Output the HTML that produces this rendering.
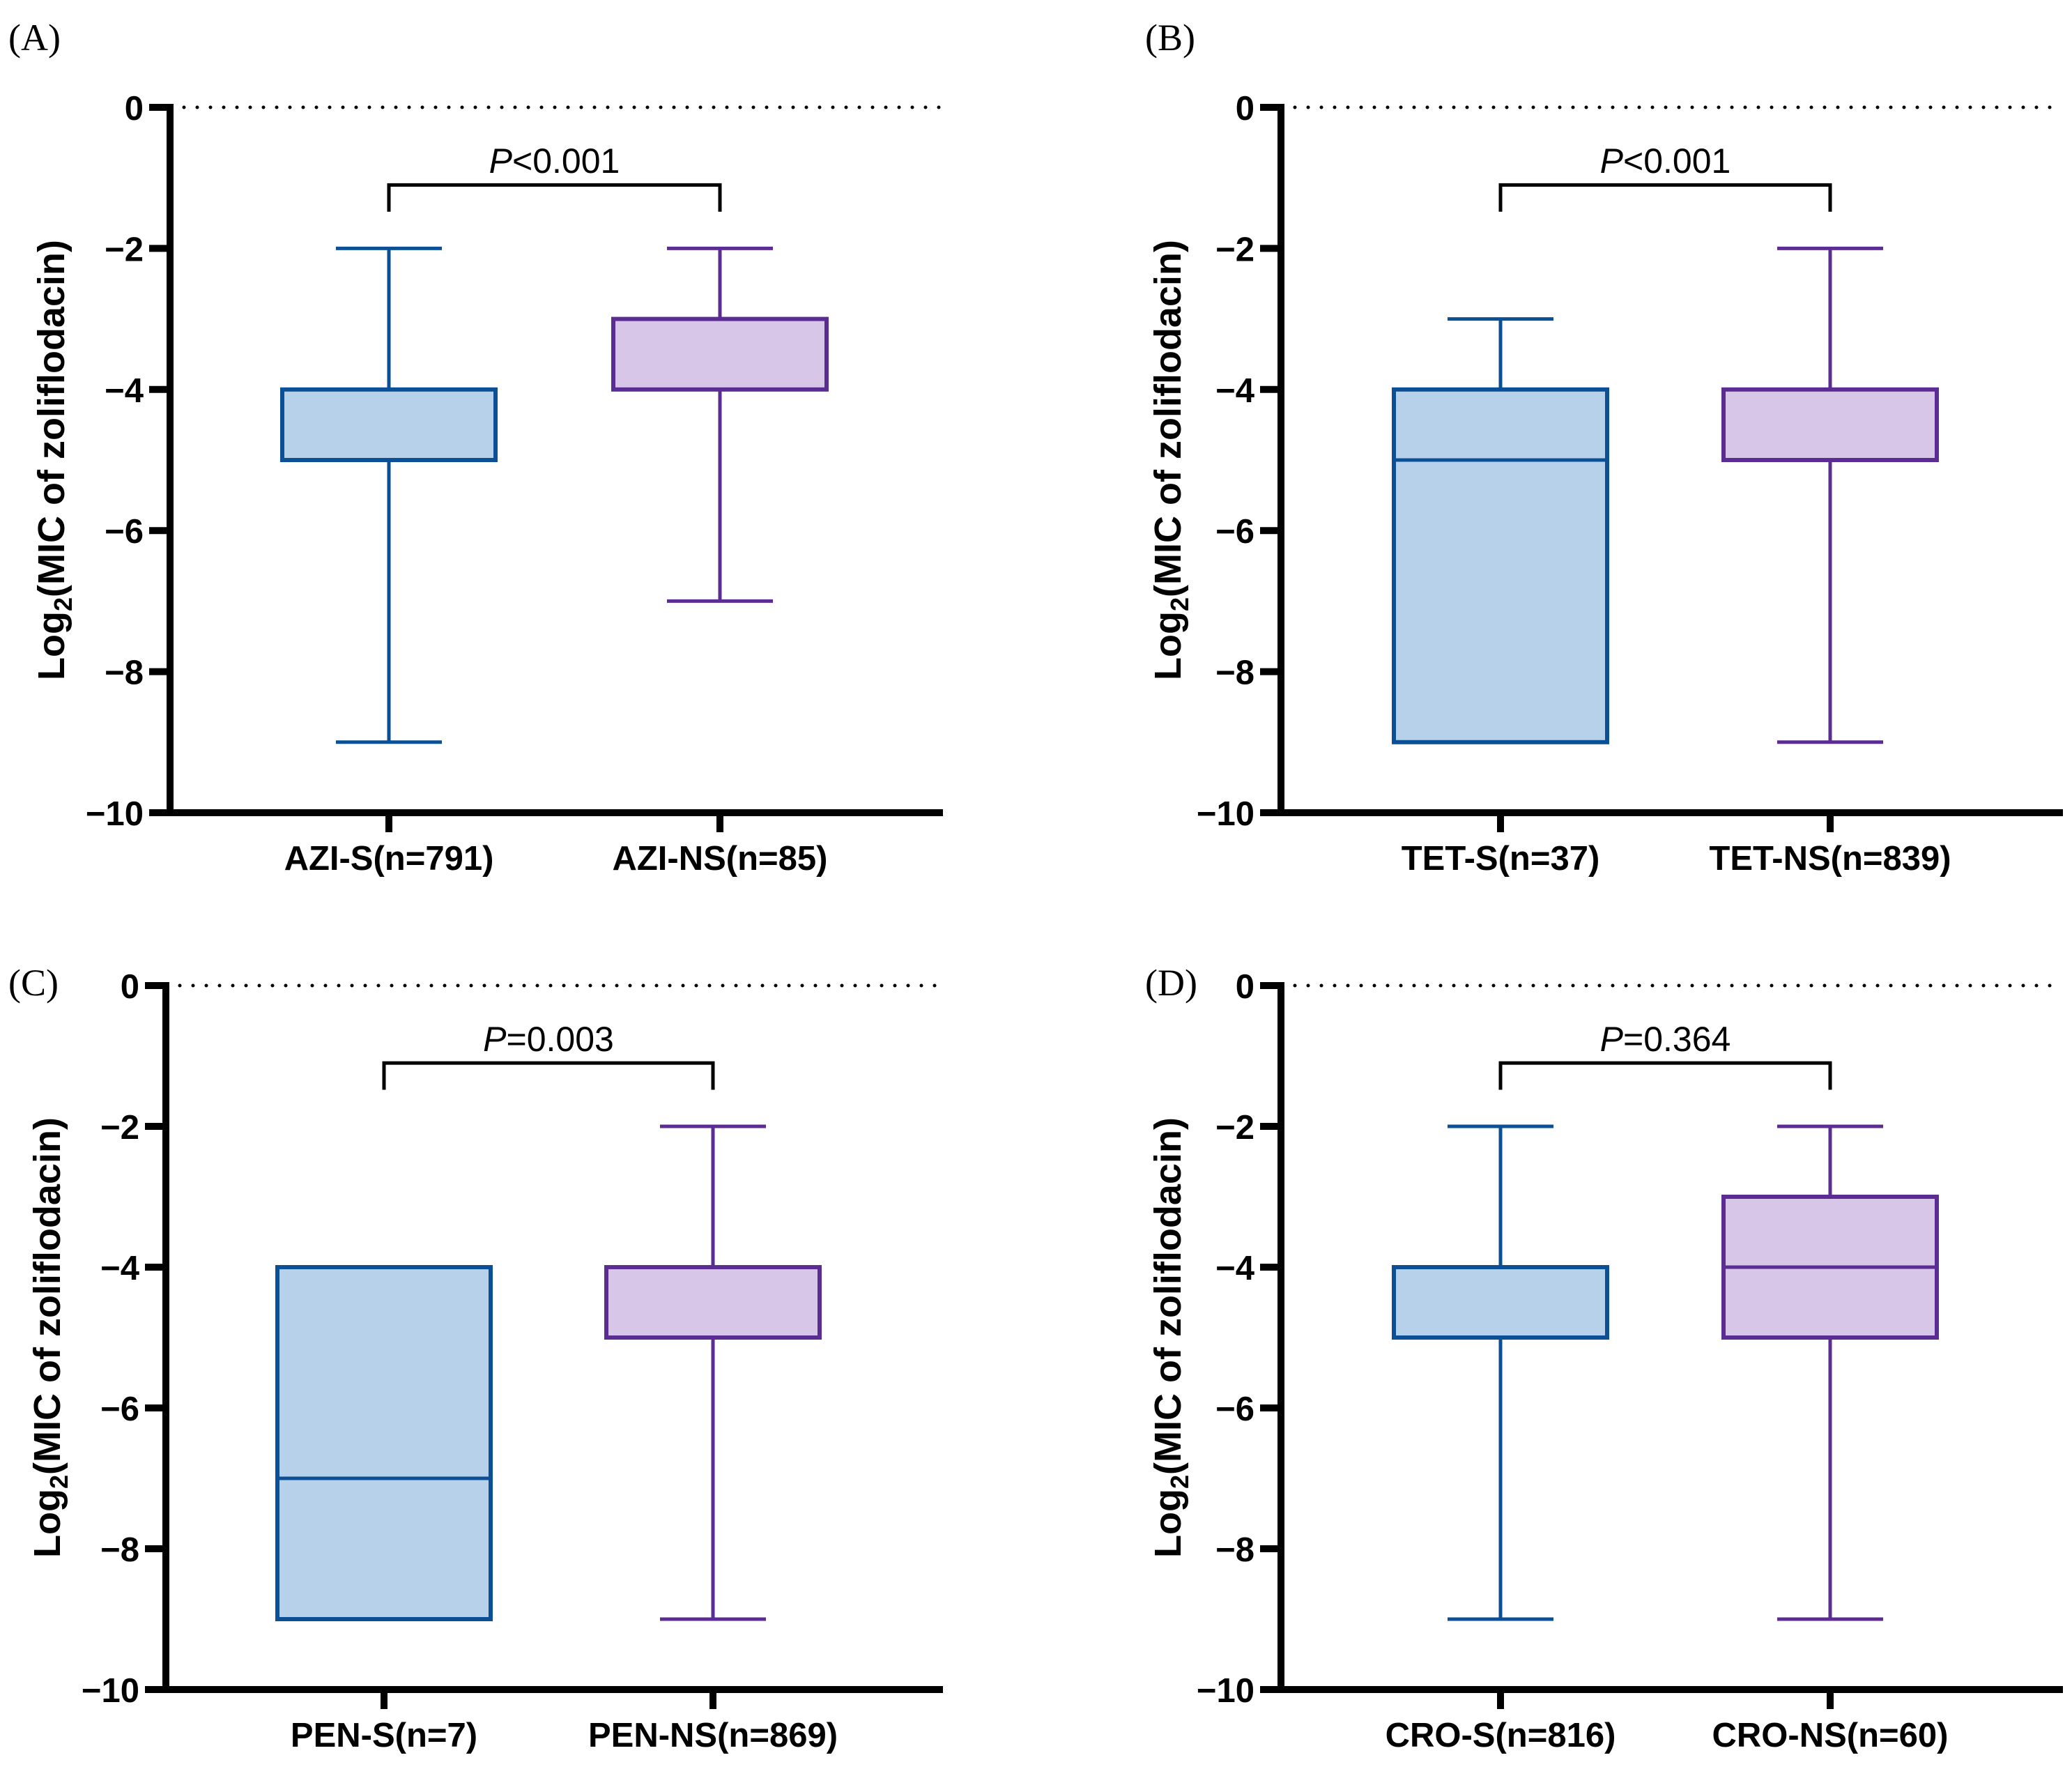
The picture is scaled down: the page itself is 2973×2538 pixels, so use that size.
<!DOCTYPE html>
<html><head><meta charset="utf-8"><style>
html,body{margin:0;padding:0;background:#fff}
svg{display:block}
</style></head><body>
<svg id="fig" width="2973" height="2538" viewBox="0 0 2973 2538" xmlns="http://www.w3.org/2000/svg" font-family="Liberation Sans, Arial, sans-serif"></svg>
<script>
const panelLabels = ["(A)","(B)","(C)","(D)"];
const catLabels = [["AZI-S(n=791)","AZI-NS(n=85)"],["TET-S(n=37)","TET-NS(n=839)"],["PEN-S(n=7)","PEN-NS(n=869)"],["CRO-S(n=816)","CRO-NS(n=60)"]];
const pTexts = [["<0.001"],["<0.001"],["=0.003"],["=0.364"]];
// [min, q1, median, q3, max]
const sValues = [[-9,-5,-4,-4,-2],[-9,-9,-5,-4,-3],[-9,-9,-7,-4,-4],[-9,-5,-4,-4,-2]];
const nsValues = [[-7,-4,-4,-3,-2],[-9,-5,-4,-4,-2],[-9,-5,-4,-4,-2],[-9,-5,-4,-3,-2]];
const yTicks = [0,-2,-4,-6,-8,-10];

const NS="http://www.w3.org/2000/svg";
const svg=document.getElementById('fig');
function el(tag,attrs,parent,txt){const e=document.createElementNS(NS,tag);for(const k in attrs)e.setAttribute(k,attrs[k]);if(txt!==undefined)e.textContent=txt;(parent||svg).appendChild(e);return e;}
const geo=[{ax:244,y0:154,y10:1166,xe:1353,cx:[558,1033],lx:12,ly:72,tx:74},
 {ax:1838,y0:154,y10:1166,xe:2960,cx:[2153,2626],lx:1643,ly:72,tx:1676},
 {ax:238,y0:1414,y10:2424,xe:1353,cx:[551,1023],lx:12,ly:1428,tx:68},
 {ax:1838,y0:1414,y10:2424,xe:2960,cx:[2153,2626],lx:1643,ly:1428,tx:1676}];
const colors=[{s:"#0b5095",f:"#b8d1eb"},{s:"#5b2d92",f:"#d8c6e9"}];
geo.forEach((g,pi)=>{
  const grp=el('g',{});
  
  
  const Y=v=>g.y0+(g.y10-g.y0)*(v/-10);
  const pl=el('text',{x:g.lx,y:g.ly,'font-size':54,style:'font-family:"Liberation Serif",serif'},grp,panelLabels[pi]);
  
  const dl=el('line',{x1:g.ax+20,y1:Y(0),x2:g.xe,y2:Y(0),stroke:'#000','stroke-width':5,'stroke-dasharray':'0 19','stroke-linecap':'round'},grp);
  
  [sValues[pi],nsValues[pi]].forEach((v,ci)=>{
    const cx=g.cx[ci],c=colors[ci],hw=153,cw=76;
    const bg=el('g',{},grp);
    
    el('line',{x1:cx,y1:Y(v[4]),x2:cx,y2:Y(v[3]),stroke:c.s,'stroke-width':5},bg);
    el('line',{x1:cx,y1:Y(v[1]),x2:cx,y2:Y(v[0]),stroke:c.s,'stroke-width':5},bg);
    if(v[4]!==v[3])el('line',{x1:cx-cw,y1:Y(v[4]),x2:cx+cw,y2:Y(v[4]),stroke:c.s,'stroke-width':5},bg);
    if(v[0]!==v[1])el('line',{x1:cx-cw,y1:Y(v[0]),x2:cx+cw,y2:Y(v[0]),stroke:c.s,'stroke-width':5},bg);
    el('rect',{x:cx-hw,y:Y(v[3]),width:2*hw,height:Math.max(Y(v[1])-Y(v[3]),1),fill:c.f,stroke:c.s,'stroke-width':6},bg);
    el('line',{x1:cx-hw,y1:Y(v[2]),x2:cx+hw,y2:Y(v[2]),stroke:c.s,'stroke-width':5},bg);
    const cl=el('text',{x:cx,y:g.y10+82,'font-size':49,'font-weight':'bold','text-anchor':'middle'},grp,catLabels[pi][ci]);
    
  });
  const bt=Y(-1.1),bb=Y(-1.48);
  const br=el('path',{d:`M${g.cx[0]} ${bb}V${bt}H${g.cx[1]}V${bb}`,fill:'none',stroke:'#000','stroke-width':5},grp);
  
  const pt=el('text',{x:(g.cx[0]+g.cx[1])/2,y:Y(-0.93),'font-size':50,'text-anchor':'middle'},grp);
  
  el('tspan',{'font-style':'italic'},pt,'P');el('tspan',{},pt,pTexts[pi][0]);
  const ya=el('path',{d:`M${g.ax-30} ${Y(0)}H${g.ax}V${Y(-10)}`,fill:'none',stroke:'#000','stroke-width':10},grp);
  
  const xa=el('line',{x1:g.ax-30,y1:Y(-10),x2:g.xe,y2:Y(-10),stroke:'#000','stroke-width':10},grp);
  
  g.cx.forEach(cx=>el('line',{x1:cx,y1:Y(-10),x2:cx,y2:Y(-10)+28,stroke:'#000','stroke-width':10},grp));
  yTicks.forEach(t=>{
    el('line',{x1:g.ax-30,y1:Y(t),x2:g.ax,y2:Y(t),stroke:'#000','stroke-width':10},grp);
    const tl=el('text',{x:g.ax-38,y:Y(t)+18,'font-size':49,'font-weight':'bold','text-anchor':'end'},grp,t===0?'0':'\u2212'+(-t));
    
  });
  const yt=el('text',{transform:`translate(${g.tx+18},${Y(-5)}) rotate(-90)`,'font-size':54,'font-weight':'bold','text-anchor':'middle'},grp);
  
  el('tspan',{},yt,'Log');el('tspan',{'font-size':36,dy:11},yt,'2');el('tspan',{dy:-11},yt,'(MIC of zoliflodacin)');
});
</script>
</body></html>
